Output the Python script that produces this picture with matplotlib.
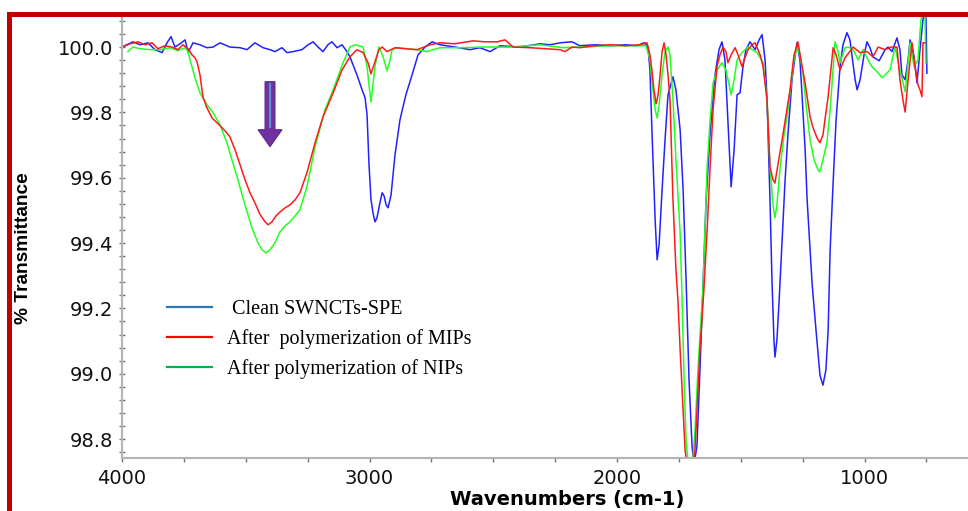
import numpy as np
import matplotlib
matplotlib.use("Agg")
import matplotlib.pyplot as plt
from matplotlib.lines import Line2D
from matplotlib.patches import Rectangle, FancyArrow
from matplotlib.ticker import MultipleLocator, FormatStrFormatter

# FTIR spectra (wavenumber cm-1, % transmittance)
wn_clean = [4000, 3956, 3927, 3895, 3867, 3838, 3818, 3802, 3786, 3766, 3745, 3733, 3713, 3685,
            3657, 3632, 3604, 3564, 3523, 3495, 3463, 3430, 3402, 3382, 3354, 3333, 3309, 3273,
            3248, 3228, 3208, 3188, 3168, 3152, 3131, 3111, 3091, 3079, 3051, 3030, 3018, 3010,
            3002, 2994, 2986, 2978, 2970, 2958, 2949, 2941, 2933, 2925, 2913, 2897, 2877, 2853,
            2828, 2804, 2776, 2747, 2715, 2655, 2594, 2554, 2513, 2473, 2392, 2311, 2271, 2230,
            2182, 2150, 2089, 2028, 1968, 1919, 1891, 1875, 1867, 1859, 1846, 1838, 1830, 1818,
            1806, 1794, 1774, 1762, 1745, 1733, 1721, 1709, 1697, 1689, 1677, 1665, 1653, 1640,
            1624, 1604, 1588, 1576, 1564, 1552, 1539, 1527, 1515, 1503, 1491, 1479, 1463, 1442,
            1426, 1414, 1402, 1394, 1382, 1374, 1366, 1362, 1354, 1345, 1321, 1309, 1293, 1281,
            1273, 1261, 1253, 1240, 1232, 1220, 1212, 1196, 1180, 1168, 1156, 1147, 1139, 1127,
            1115, 1099, 1087, 1071, 1059, 1051, 1038, 1030, 1018, 1002, 990, 978, 966, 941,
            917, 905, 889, 869, 857, 849, 836, 824, 816, 800, 788, 776, 764, 756, 752, 748]
t_clean = [100.0, 100.016, 100.007, 100.013, 99.992, 99.983, 100.013, 100.032, 100.0, 100.01,
           100.022, 99.983, 100.013, 100.007, 99.998, 100.0, 100.013, 100.0, 99.998, 99.992,
           100.013, 99.998, 99.992, 99.986, 99.998, 99.983, 99.986, 99.992, 100.007, 100.016,
           100.0, 99.986, 100.007, 100.016, 99.998, 100.007, 99.986, 99.97, 99.915, 99.869,
           99.845, 99.793, 99.64, 99.533, 99.493, 99.465, 99.477, 99.523, 99.554, 99.544,
           99.517, 99.508, 99.547, 99.67, 99.777, 99.854, 99.915, 99.976, 100.0, 100.016,
           100.007, 100.0, 99.992, 99.998, 99.986, 100.004, 100.0, 100.01, 100.007, 100.013,
           100.016, 100.004, 100.007, 100.004, 100.007, 100.004, 100.013, 100.0, 99.93, 99.746,
           99.47, 99.349, 99.395, 99.563, 99.716, 99.854, 99.909, 99.869, 99.746, 99.563,
           99.287, 98.98, 98.78, 98.72, 98.78, 99.012, 99.257, 99.533, 99.737, 99.915,
           99.992, 100.016, 99.961, 99.777, 99.572, 99.685, 99.854, 99.86, 99.94, 99.992,
           100.016, 99.992, 100.022, 100.038, 99.961, 99.84, 99.533, 99.287, 99.103, 99.051,
           99.103, 99.225, 99.593, 99.737, 99.9, 99.97, 100.013, 99.961, 99.86, 99.685,
           99.533, 99.379, 99.277, 99.133, 98.995, 98.965, 99.012, 99.133, 99.379, 99.584,
           99.777, 99.94, 100.007, 100.044, 100.022, 99.976, 99.9, 99.869, 99.9, 99.976,
           100.016, 99.998, 99.97, 99.958, 99.992, 100.0, 99.986, 100.028, 99.992, 99.915,
           99.9, 99.961, 100.022, 99.97, 99.89, 99.992, 100.084, 100.114, 100.1, 99.92]

wn_mip = [4000, 3968, 3935, 3907, 3879, 3855, 3826, 3798, 3774, 3754, 3733, 3717, 3705, 3697,
          3685, 3673, 3657, 3636, 3616, 3596, 3576, 3564, 3543, 3523, 3503, 3483, 3463, 3442,
          3422, 3410, 3394, 3378, 3362, 3341, 3321, 3301, 3281, 3253, 3220, 3188, 3147, 3111,
          3079, 3051, 3026, 3006, 2994, 2978, 2962, 2949, 2929, 2897, 2857, 2808, 2756, 2715,
          2655, 2582, 2533, 2485, 2452, 2420, 2351, 2291, 2230, 2210, 2182, 2150, 2089, 2028,
          1968, 1907, 1879, 1867, 1859, 1851, 1842, 1834, 1826, 1818, 1810, 1802, 1794, 1786,
          1774, 1762, 1754, 1745, 1733, 1725, 1713, 1697, 1685, 1673, 1665, 1649, 1636, 1624,
          1612, 1596, 1584, 1572, 1560, 1552, 1539, 1523, 1511, 1495, 1483, 1471, 1454, 1442,
          1422, 1410, 1394, 1382, 1370, 1362, 1350, 1333, 1317, 1301, 1285, 1269, 1257, 1240,
          1220, 1208, 1192, 1180, 1168, 1160, 1147, 1127, 1115, 1099, 1079, 1046, 1018, 990,
          966, 945, 917, 893, 869, 857, 845, 836, 824, 808, 796, 784, 776, 768, 764, 756]
t_mip = [100.0, 100.01, 100.016, 100.007, 100.013, 99.995, 100.004, 100.0, 99.992, 100.007,
         99.995, 99.976, 99.967, 99.955, 99.915, 99.848, 99.814, 99.783, 99.768, 99.753,
         99.737, 99.725, 99.685, 99.64, 99.594, 99.554, 99.523, 99.487, 99.465, 99.456,
         99.465, 99.483, 99.495, 99.508, 99.517, 99.532, 99.554, 99.615, 99.707, 99.786,
         99.86, 99.93, 99.97, 99.992, 99.983, 99.952, 99.918, 99.955, 99.992, 100.0,
         99.986, 99.998, 99.995, 99.992, 100.007, 100.013, 100.01, 100.019, 100.016, 100.016,
         100.022, 100.0, 99.998, 99.995, 99.992, 99.986, 100.0, 99.998, 100.004, 100.007,
         100.004, 100.007, 100.013, 99.976, 99.93, 99.869, 99.826, 99.854, 99.915, 99.986,
         100.013, 99.976, 99.915, 99.839, 99.533, 99.318, 99.226, 99.073, 98.888, 98.765,
         98.7, 98.7, 98.765, 98.95, 99.073, 99.257, 99.44, 99.633, 99.808, 99.94,
         99.976, 100.0, 99.986, 99.952, 99.976, 99.998, 99.976, 99.94, 99.967, 99.992,
         100.007, 100.013, 99.976, 99.94, 99.839, 99.633, 99.594, 99.584, 99.64, 99.716,
         99.793, 99.869, 99.976, 100.016, 99.961, 99.89, 99.786, 99.753, 99.722, 99.707,
         99.731, 99.777, 99.848, 99.998, 99.976, 99.93, 99.967, 100.0, 99.983, 99.986,
         99.97, 100.0, 99.992, 100.0, 100.0, 99.9, 99.839, 99.801, 99.9, 100.013,
         99.94, 99.884, 99.869, 99.848, 100.013, 100.013]

wn_nip = [3976, 3956, 3927, 3887, 3846, 3806, 3774, 3745, 3733, 3725, 3705, 3685, 3657, 3632,
          3604, 3576, 3556, 3535, 3515, 3495, 3475, 3451, 3434, 3418, 3402, 3382, 3362, 3341,
          3321, 3301, 3281, 3253, 3220, 3180, 3147, 3107, 3079, 3059, 3026, 3010, 3002, 2994,
          2986, 2978, 2962, 2945, 2929, 2917, 2909, 2889, 2808, 2768, 2715, 2634, 2541, 2432,
          2311, 2218, 2150, 2028, 1907, 1883, 1867, 1855, 1846, 1838, 1830, 1818, 1806, 1794,
          1786, 1774, 1762, 1745, 1737, 1729, 1721, 1709, 1697, 1685, 1673, 1661, 1653, 1636,
          1624, 1612, 1596, 1576, 1560, 1547, 1539, 1527, 1515, 1495, 1471, 1454, 1434, 1410,
          1394, 1382, 1370, 1362, 1354, 1341, 1325, 1313, 1297, 1285, 1273, 1261, 1249, 1236,
          1220, 1204, 1188, 1180, 1168, 1152, 1139, 1131, 1119, 1107, 1099, 1079, 1067, 1046,
          1026, 1006, 986, 970, 945, 929, 909, 897, 877, 857, 836, 816, 800, 784, 772, 764,
          756, 752]
t_nip = [99.986, 100.0, 99.995, 99.992, 99.992, 99.998, 99.989, 99.998, 99.986, 99.961,
         99.906, 99.86, 99.823, 99.799, 99.762, 99.707, 99.655, 99.603, 99.548, 99.496,
         99.447, 99.401, 99.379, 99.37, 99.379, 99.401, 99.434, 99.453, 99.465, 99.483,
         99.502, 99.572, 99.695, 99.808, 99.869, 99.952, 100.0, 100.007, 100.0, 99.94,
         99.884, 99.832, 99.884, 99.94, 100.0, 99.97, 99.927, 99.961, 99.992, 99.998,
         99.992, 99.986, 99.998, 99.998, 100.0, 100.0, 100.007, 99.998, 100.0, 100.004,
         100.004, 100.004, 99.961, 99.869, 99.808, 99.783, 99.823, 99.915, 99.986, 100.0,
         99.976, 99.839, 99.655, 99.43, 99.226, 98.98, 98.796, 98.7, 98.7, 98.827,
         99.012, 99.165, 99.257, 99.633, 99.777, 99.89, 99.93, 99.952, 99.93, 99.884,
         99.854, 99.9, 99.961, 99.983, 100.0, 99.992, 99.983, 99.952, 99.839, 99.633,
         99.517, 99.477, 99.517, 99.633, 99.731, 99.786, 99.884, 99.961, 100.0, 99.976,
         99.92, 99.823, 99.716, 99.655, 99.624, 99.618, 99.655, 99.707, 99.808, 99.89,
         100.016, 99.986, 99.952, 99.998, 100.0, 99.992, 99.961, 99.992, 99.961, 99.94,
         99.921, 99.906, 99.921, 99.93, 100.0, 99.93, 99.863, 100.013, 99.94, 99.961,
         100.084, 100.108, 100.1, 99.952]

labels = [" Clean SWNCTs-SPE", "After  polymerization of MIPs", "After polymerization of NIPs"]
line_colors = ["#2222ff", "#ff1a1a", "#22ff22"]
legend_colors = ["#2e75b6", "#ff0000", "#00b050"]

fig = plt.figure(figsize=(9.68, 5.11), dpi=100)
W, H = 968.0, 511.0
ax = fig.add_axes([122 / W, (H - 457.7) / H, (W - 122) / W, (457.7 - 17) / H])

ax.plot(wn_clean, t_clean, color=line_colors[0], lw=1.1)
ax.plot(wn_nip, t_nip, color=line_colors[2], lw=1.1)
ax.plot(wn_mip, t_mip, color=line_colors[1], lw=1.1)

ax.set_xlim(4000, 582)
ax.set_ylim(98.743, 100.092)

ax.xaxis.set_major_locator(MultipleLocator(1000))
ax.xaxis.set_minor_locator(MultipleLocator(250))
ax.yaxis.set_major_locator(MultipleLocator(0.2))
ax.yaxis.set_minor_locator(MultipleLocator(0.04))
ax.yaxis.set_major_formatter(FormatStrFormatter("%.1f"))

for s in ["top", "right"]:
    ax.spines[s].set_visible(False)
for s in ["left", "bottom"]:
    ax.spines[s].set_color("#b4b4b4")
    ax.spines[s].set_linewidth(1.5)

ax.tick_params(axis="y", which="both", direction="inout", length=5, width=1, color="#777777")
ax.tick_params(axis="y", which="major", pad=4, labelsize=14)
ax.tick_params(axis="x", which="both", direction="out", length=3, width=1, color="#777777")
ax.tick_params(axis="x", which="major", pad=5, labelsize=14)
for lab in ax.get_xticklabels() + ax.get_yticklabels():
    lab.set_fontfamily("DejaVu Sans")
    lab.set_color("#111111")

ax.set_xlabel("Wavenumbers (cm-1)", fontsize=14, fontweight="bold", family="DejaVu Sans", va="center")
ax.xaxis.set_label_coords(0.526, -0.094)
ax.set_ylabel("% Transmittance", fontsize=13.8, fontweight="bold", family="Liberation Sans", va="center")
ax.yaxis.set_label_coords(-0.116, 0.475)

# arrow marking the broad O-H band
arrow_x, arrow_top, arrow_tip = 3402, 99.894, 99.695
ax.add_patch(FancyArrow(arrow_x, arrow_top, 0, arrow_tip - arrow_top, width=40, head_width=97,
                        head_length=0.052, length_includes_head=True,
                        facecolor="#7030a0", edgecolor="#5e2a8c", lw=0.8, zorder=5))
ax.plot([arrow_x, arrow_x], [arrow_top - 0.008, arrow_tip + 0.06], color="#5b8fd0", lw=1.6, zorder=6)

handles = [Line2D([], [], color=c, lw=1.6) for c in legend_colors]
ax.legend(handles, labels, loc="upper left", bbox_to_anchor=(167 / W, 1 - 299.5 / H),
          bbox_transform=fig.transFigure, frameon=False, borderpad=0, borderaxespad=0,
          handlelength=2.25, handletextpad=0.75, labelspacing=0.5,
          prop={"family": "Liberation Serif", "size": 14.5})

# red frame around the figure (top and left edges visible)
fig.add_artist(Rectangle((9.3 / W, -0.5), 2.0, (H - 14.2) / H + 0.5, transform=fig.transFigure,
                         fill=False, edgecolor="#c00000", linewidth=3.6))

fig.savefig("out.png", dpi=100)
